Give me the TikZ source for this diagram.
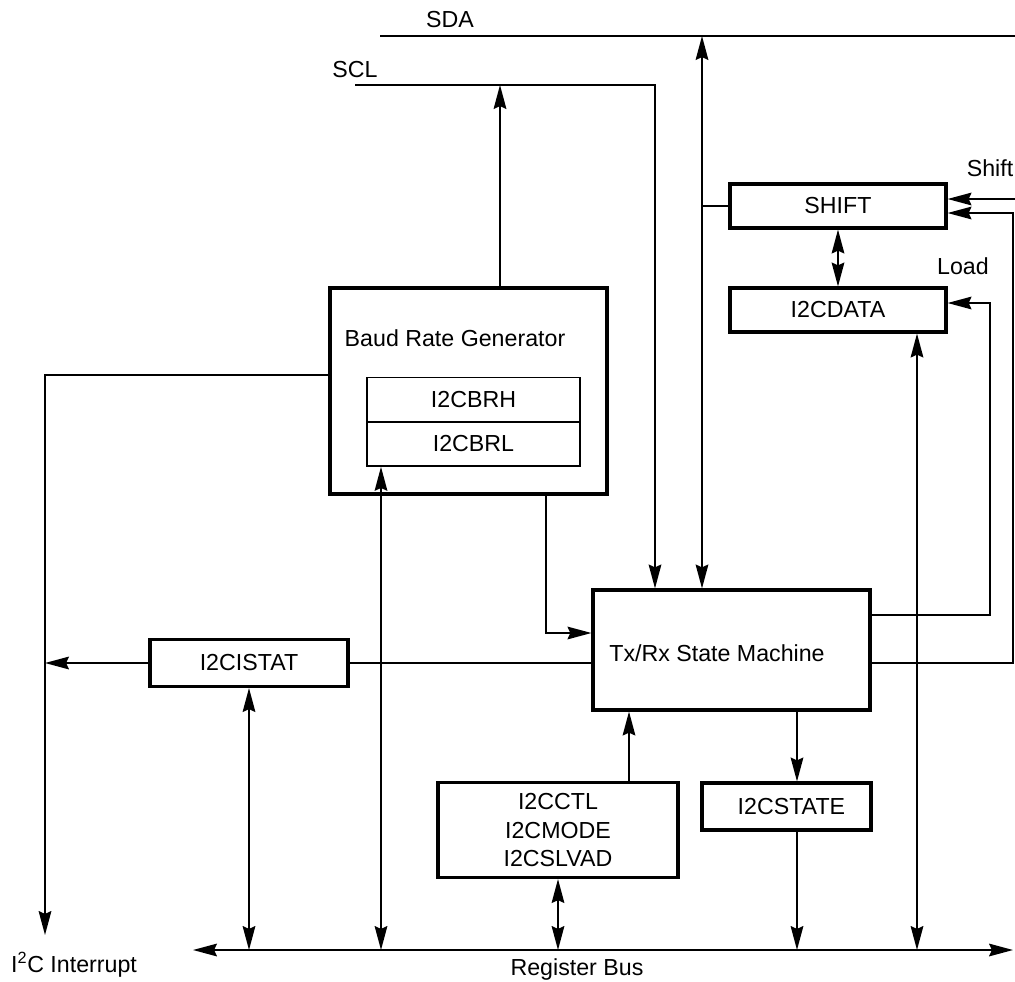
\documentclass[tikz,border=0pt]{standalone}
\usepackage{fontspec}
\setmainfont{Liberation Sans}
\usetikzlibrary{arrows.meta,calc}
\tikzset{
  reg/.style={draw,line width=2.2pt,inner sep=0pt,minimum height=1.1cm},
  subreg/.style={draw,line width=1.2pt,inner sep=0pt,minimum width=5.325cm,minimum height=1.1cm},
  txt/.style={inner sep=0pt}
}
\begin{document}
\begin{tikzpicture}[x=0.025cm,y=-0.025cm,line width=1.3pt,
    >={Stealth[length=17pt,width=9pt,inset=2pt]},
    font=\fontsize{16.5}{20}\selectfont]
    \useasboundingbox (0,0) rectangle (1015,982);
    % boxes
    \node[reg,minimum width=5.4cm] (shift) at (838,206) {SHIFT};
    \node[reg,minimum width=5.4cm] (data) at (838,310) {I2CDATA};
    \node[reg,minimum width=6.925cm,minimum height=5.15cm] (brg) at (468.5,391) {};
    \node[txt] (brgtxt) at (455,338) {Baud Rate Generator};
    \node[subreg] (brh) at (473.5,399.5) {I2CBRH};
    \node[subreg] (brl) at (473.5,444) {I2CBRL};
    \node[reg,minimum width=6.925cm,minimum height=3cm] (fsm) at (731.5,650) {};
    \node[txt] (fsmtxt) at (717,653) {Tx/Rx State Machine};
    \node[reg,minimum width=4.95cm,minimum height=1.175cm] (istat) at (249,663) {I2CISTAT};
    \node[reg,minimum width=6cm,minimum height=2.375cm,align=center] (ctl) at (558,830) {I2CCTL\\I2CMODE\\I2CSLVAD};
    \node[reg,minimum width=4.225cm,minimum height=1.175cm] (state) at (786.5,806.5) {\hspace{7pt}I2CSTATE};
    % labels
    \node[txt] (sda) at (450,20) {SDA};
    \node[txt] (scl) at (355,70) {SCL};
    \node[txt] (shiftlbl) at (990,168) {Shift};
    \node[txt] (loadlbl) at (963,266) {Load};
    \node[txt] (irqlbl) at (74,965) {I\textsuperscript{2}C Interrupt};
    \node[txt] (buslbl) at (577,969) {Register Bus};
    % free ends
    \coordinate (sdaL) at (380,36);
    \coordinate (sdaR) at (1015,36);
    \coordinate (sdaTap) at (702,36);
    \coordinate (sclL) at (355,85);
    \coordinate (sclTap) at (655,85);
    \coordinate (brgUp) at (500,85);
    \coordinate (irqTop) at (45,375);
    \coordinate (irq) at (45,935);
    \coordinate (busL) at (193,950);
    \coordinate (busR) at (1013,950);
    \coordinate (brlTap) at (381,950);
    \coordinate (brgDn) at (546,633);
    \coordinate (dataTap) at (917,950);
    \coordinate (loadC) at (990,615);
    \coordinate (shC) at (1013,663);
    \coordinate (shIn) at (1015,199);
    \coordinate (ctlUp) at ($(ctl.north)+(71,0)$);
    \coordinate (stTap) at ($(state.north)+(10.5,0)$);
    % I2C lines
    \draw (sdaL) -- (sdaR);
    \draw[<->] (sdaTap) -- (sdaTap |- fsm.north);
    \draw (shift.west) -- (shift.west -| sdaTap);
    \draw[->] (sclL) -- (sclTap) -- (sclTap |- fsm.north);
    \draw[->] (brgUp |- brg.north) -- (brgUp);
    % interrupt
    \draw[->] (irqTop -| brg.west) -- (irqTop) -- (irq);
    \draw[->] (istat.west) -- (istat.west -| irq);
    \draw (istat.east) -- (istat.east -| fsm.west);
    % internal
    \draw[->] (brgDn |- brg.south) -- (brgDn) -- (brgDn -| fsm.west);
    \draw[<->] (shift.south) -- (data.north);
    \draw[->] (loadC -| fsm.east) -- (loadC) |- ([yshift=0.175cm]data.east);
    \draw[->] (shC -| fsm.east) -- (shC) |- ([yshift=-0.175cm]shift.east);
    \draw[->] (shIn) -- (shIn -| shift.east);
    \draw[->] (ctlUp) -- (ctlUp |- fsm.south);
    \draw[->] (stTap |- fsm.south) -- (stTap);
    % register bus
    \draw[<->] (busL) -- (busR);
    \draw[<->] (brlTap |- brl.south) -- (brlTap);
    \draw[<->] (istat.south) -- (istat.south |- busL);
    \draw[<->] (ctl.south) -- (ctl.south |- busL);
    \draw[->] (stTap |- state.south) -- (stTap |- busL);
    \draw[<->] (dataTap |- data.south) -- (dataTap);
\end{tikzpicture}
\end{document}
